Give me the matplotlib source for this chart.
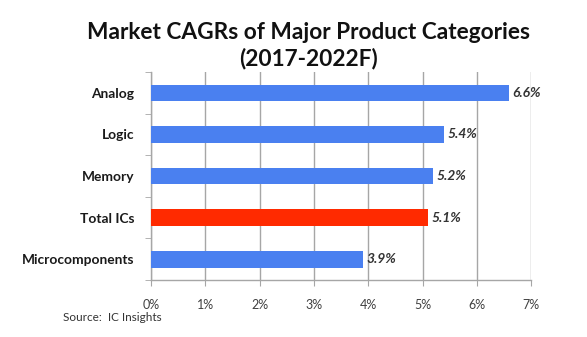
import matplotlib
matplotlib.use("Agg")
import matplotlib.pyplot as plt
from matplotlib.ticker import FuncFormatter, FixedLocator

categories = ["Analog", "Logic", "Memory", "Total ICs", "Microcomponents"]
cagr = [6.6, 5.4, 5.2, 5.1, 3.9]
bar_colors = ["#4a80f0", "#4a80f0", "#4a80f0", "#ff2a00", "#4a80f0"]
x_ticks = [0, 1, 2, 3, 4, 5, 6, 7]

plt.rcParams["font.family"] = ["Lato", "DejaVu Sans"]

fig = plt.figure(figsize=(5.87, 3.37), dpi=100)
ax = fig.add_axes([0.257, 0.169, 0.648, 0.617])

ypos = list(range(len(categories)))
ax.barh(ypos, cagr, height=0.4, color=bar_colors, zorder=3)
ax.set_ylim(len(categories) - 0.5, -0.5)
ax.set_xlim(0, 7)

for y, v in zip(ypos, cagr):
    ax.text(v + 0.06, y, f"{v:.1f}%", va="center", ha="left",
            fontsize=10, fontweight="bold", fontstyle="italic", color="#333333")

ax.set_xticks(x_ticks)
ax.xaxis.set_major_formatter(FuncFormatter(lambda v, p: f"{v:.0f}%"))
ax.grid(axis="x", color="#a6a6a6", linewidth=1.0, zorder=0)
ax.tick_params(axis="x", length=4, color="#a6a6a6", labelsize=9,
               labelcolor="#404040", pad=10)

ax.set_yticks(ypos)
ax.set_yticklabels(categories, fontsize=9.9, fontweight="bold", color="#1a1a1a")
ax.tick_params(axis="y", length=0, pad=12)
ax.yaxis.set_minor_locator(FixedLocator([i - 0.5 for i in range(len(categories) + 1)]))
ax.tick_params(axis="y", which="minor", length=4, color="#a6a6a6")

for side in ["top", "right"]:
    ax.spines[side].set_visible(False)
for side in ["left", "bottom"]:
    ax.spines[side].set_color("#a6a6a6")
    ax.spines[side].set_linewidth(1.0)

fig.text(0.526, 0.905, "Market CAGRs of Major Product Categories",
         ha="center", va="center", fontsize=16.3, fontweight="bold", color="#111111")
fig.text(0.526, 0.826, "(2017-2022F)",
         ha="center", va="center", fontsize=16.3, fontweight="bold", color="#111111")
fig.text(0.107, 0.057, "Source:  IC Insights", ha="left", va="center",
         fontsize=8.5, color="#333333")

fig.savefig("out.png", dpi=100, facecolor="white")
